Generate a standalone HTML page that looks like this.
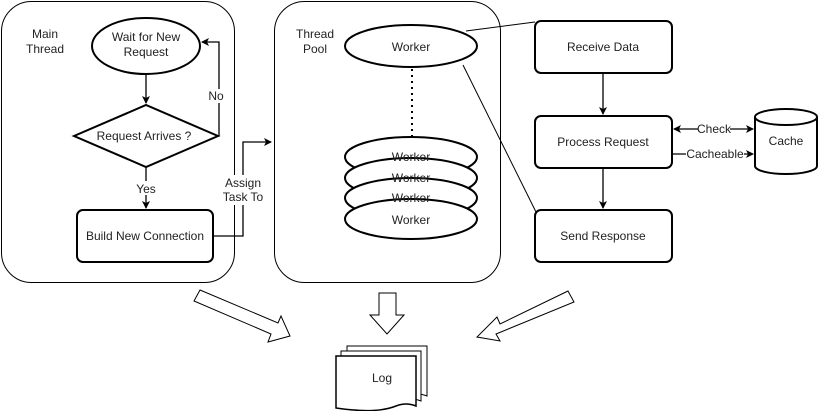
<!DOCTYPE html>
<html><head><style>body{margin:0;background:#fff}svg{display:block}text{font-family:"Liberation Sans",Arial,sans-serif;font-size:12px;fill:#222}</style></head><body>
<svg width="820" height="411" viewBox="0 0 820 411">
<defs><marker id="a" markerWidth="8" markerHeight="8" refX="7" refY="4" orient="auto" markerUnits="userSpaceOnUse"><path d="M0,0 L8,4 L0,8 L2,4z" fill="#000"/></marker>
<marker id="b" markerWidth="8" markerHeight="8" refX="1" refY="4" orient="auto" markerUnits="userSpaceOnUse"><path d="M8,0 L0,4 L8,8 L6,4z" fill="#000"/></marker></defs>
<g fill="none" stroke="#000" stroke-width="1">
<rect x="1.5" y="1.5" width="233" height="281" rx="30"/>
<rect x="274.5" y="1.5" width="226" height="281" rx="30"/>
</g>
<g fill="#fff" stroke="#000" stroke-width="2">
<ellipse cx="146" cy="46" rx="54" ry="28"/>
<path d="M74,136 L146,105 L218,136 L146,167Z"/>
<rect x="77" y="210" width="136" height="52" rx="6"/>
<rect x="535" y="21" width="137" height="52" rx="6"/>
<rect x="535" y="116" width="137" height="52" rx="6"/>
<rect x="535" y="210" width="137" height="52" rx="6"/>
<ellipse cx="411" cy="46" rx="66" ry="21"/>
<ellipse cx="411" cy="157" rx="66" ry="20"/>
<ellipse cx="411" cy="178" rx="66" ry="20"/>
<ellipse cx="411" cy="198" rx="66" ry="20"/>
<ellipse cx="411" cy="219" rx="66" ry="20"/>
</g>
<g fill="none" stroke="#000" stroke-width="1.3">
<path d="M146,74 V103" marker-end="url(#a)"/>
<path d="M146,167 V208" marker-end="url(#a)"/>
<path d="M218,136 H219 V42 H202" marker-end="url(#a)"/>
<path d="M213,236 H243 V142 H271" marker-end="url(#a)"/>
<path d="M603,73 V114" marker-end="url(#a)"/>
<path d="M603,168 V208" marker-end="url(#a)"/>
<path d="M674,129 H753" marker-start="url(#b)" marker-end="url(#a)"/>
<path d="M673,154 H753" marker-end="url(#a)"/>
<path d="M412,69 V137" stroke-dasharray="2,4" stroke-width="2"/>
<path d="M466,31 L535,22" stroke-width="1"/>
<path d="M463,65 L536,212" stroke-width="1"/>
</g>
<g fill="#fff" stroke="#000" stroke-width="2">
<path d="M755,117 V166 A31,8 0 0 0 817,166 V117"/>
<ellipse cx="786" cy="117" rx="31" ry="8"/>
</g>
<rect x="698" y="122" width="32" height="14" fill="#fff"/>
<rect x="686" y="147" width="58" height="14" fill="#fff"/>
<rect x="229" y="175" width="30" height="30" fill="#fff"/>
<rect x="208" y="89" width="18" height="14" fill="#fff"/>
<rect x="134" y="181" width="24" height="14" fill="#fff"/>
<g fill="#fff" stroke="#000" stroke-width="1">
<path d="M200,290 L278,323 L281,316 L290,336 L268,342 L271,334 L194,301Z"/>
<path d="M379,293 H396 V315 H404 L387,334 L370,315 H379Z"/>
<path d="M568,291 L500,324 L497,317 L477,337 L500,341 L496,334 L574,302Z"/>
<path d="M347,346 H427 V396 Q417,392 407,396 Q387,404 347,398Z"/>
<path d="M341,351 H421 V401 Q411,397 401,401 Q381,409 341,403Z"/>
<path d="M336,356 H416 V406 Q406,402 396,406 Q376,414 336,408Z" stroke-width="1.5"/>
</g>
<g text-anchor="middle">
<text x="146" y="41">Wait for New</text><text x="146" y="56">Request</text>
<text x="144" y="140">Request Arrives ?</text>
<text x="145" y="240">Build New Connection</text>
<text x="216" y="100">No</text>
<text x="146" y="193">Yes</text>
<text x="243" y="187">Assign</text><text x="243" y="201">Task To</text>
<text x="45" y="38">Main</text><text x="45" y="53">Thread</text>
<text x="315" y="38">Thread</text><text x="315" y="53">Pool</text>
<text x="411" y="51">Worker</text>
<text x="411" y="161">Worker</text><text x="411" y="182">Worker</text><text x="411" y="202">Worker</text>
<text x="411" y="224">Worker</text>
<text x="603" y="51">Receive Data</text>
<text x="603" y="146">Process Request</text>
<text x="603" y="240">Send Response</text>
<text x="786" y="145">Cache</text>
<text x="714" y="133" font-size="11">Check</text>
<text x="715" y="158" font-size="11">Cacheable</text>
<text x="382" y="382">Log</text>
</g>
</svg>
</body></html>
